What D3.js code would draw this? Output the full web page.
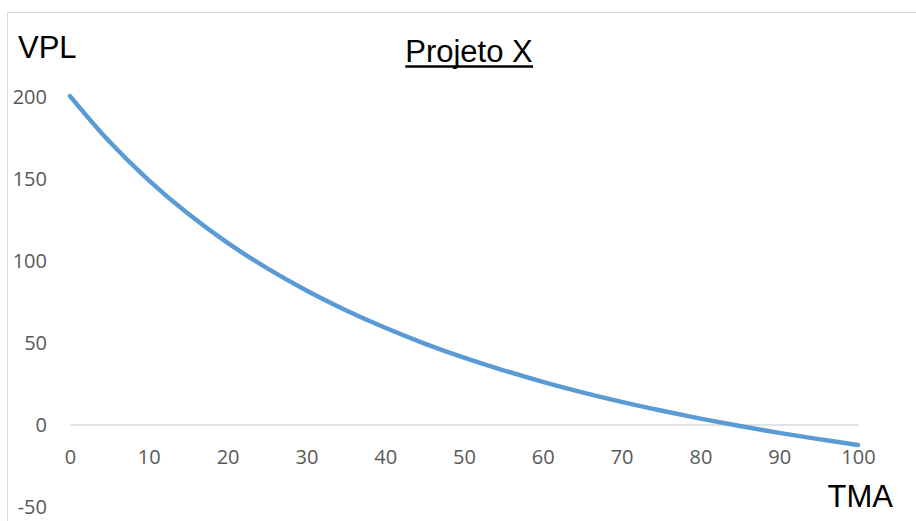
<!DOCTYPE html>
<html>
<head>
<meta charset="utf-8">
<script src="https://cdn.jsdelivr.net/npm/d3@7"></script>
<style>
  html, body { margin: 0; padding: 0; background: #fff; }
  svg { display: block; }
</style>
</head>
<body>
<svg id="chart" width="916" height="521"></svg>
<script>
// Data (TMA % vs VPL)
const tma = [0, 5, 10, 15, 20, 25, 30, 35, 40, 45, 50, 55, 60, 65, 70, 75, 80, 85, 90, 95, 100];
const vpl = [200.0, 172.3, 148.7, 128.3, 110.6, 95.2, 81.6, 69.6, 58.9, 49.3, 40.7, 33.0, 26.0, 19.6, 13.8, 8.5, 3.6, -0.9, -5.1, -8.9, -12.5];
const xTicks = [0, 10, 20, 30, 40, 50, 60, 70, 80, 90, 100];
const yTicks = [-50, 0, 50, 100, 150, 200];
const title = "Projeto X";
const yTitle = "VPL";
const xTitle = "TMA";

const svg = d3.select("#chart");

// chart border
svg.append("rect")
  .attr("x", 7.5).attr("y", 12.5)
  .attr("width", 1000).attr("height", 1000)
  .attr("fill", "none").attr("stroke", "#d9d9d9").attr("stroke-width", 1);

const x = d3.scaleLinear().domain([0, 100]).range([70, 858]);
const y = d3.scaleLinear().domain([-50, 200]).range([506.6, 96.1]);

const fmt = d => String(d);

// y axis labels (no line)
const yAxis = d3.axisLeft(y).tickValues(yTicks).tickFormat(fmt).tickSize(0).tickPadding(0);
const gy = svg.append("g").attr("transform", "translate(47,0)").call(yAxis);
gy.select(".domain").remove();
gy.selectAll("text")
  .attr("font-family", "'Open Sans', sans-serif")
  .attr("font-size", 20)
  .attr("fill", "#595959")
  .attr("dy", "0.36em");

// x axis at y = 0
const xAxis = d3.axisBottom(x).tickValues(xTicks).tickFormat(fmt).tickSize(0).tickPadding(0);
const gx = svg.append("g").attr("transform", `translate(0,${y(0)})`).call(xAxis);
gx.select(".domain").attr("stroke", "#d9d9d9").attr("stroke-width", 1.3);
gx.selectAll("text")
  .attr("font-family", "'Open Sans', sans-serif")
  .attr("font-size", 20)
  .attr("fill", "#595959")
  .attr("dy", "0")
  .attr("y", 39);

// line
const line = d3.line()
  .x((d, i) => x(tma[i]))
  .y(d => y(d))
  .curve(d3.curveCatmullRom);
svg.append("path")
  .datum(vpl)
  .attr("d", line)
  .attr("fill", "none")
  .attr("stroke", "#5B9BD5")
  .attr("stroke-width", 4.5)
  .attr("stroke-linecap", "round");

// titles
const t = svg.append("text")
  .attr("x", 469).attr("y", 62)
  .attr("text-anchor", "middle")
  .attr("font-family", "'Liberation Sans', Arial, sans-serif")
  .attr("font-size", 31)
  .attr("fill", "#000")
  .text(title);
const bb = t.node().getBBox();
svg.append("line")
  .attr("x1", bb.x).attr("x2", bb.x + bb.width)
  .attr("y1", 66.5).attr("y2", 66.5)
  .attr("stroke", "#000").attr("stroke-width", 2.6);

svg.append("text")
  .attr("x", 18).attr("y", 58)
  .attr("font-family", "'Liberation Sans', Arial, sans-serif")
  .attr("font-size", 31)
  .attr("fill", "#000")
  .text(yTitle);

svg.append("text")
  .attr("x", 893).attr("y", 507)
  .attr("text-anchor", "end")
  .attr("font-family", "'Liberation Sans', Arial, sans-serif")
  .attr("font-size", 31)
  .attr("fill", "#000")
  .text(xTitle);
</script>
</body>
</html>
